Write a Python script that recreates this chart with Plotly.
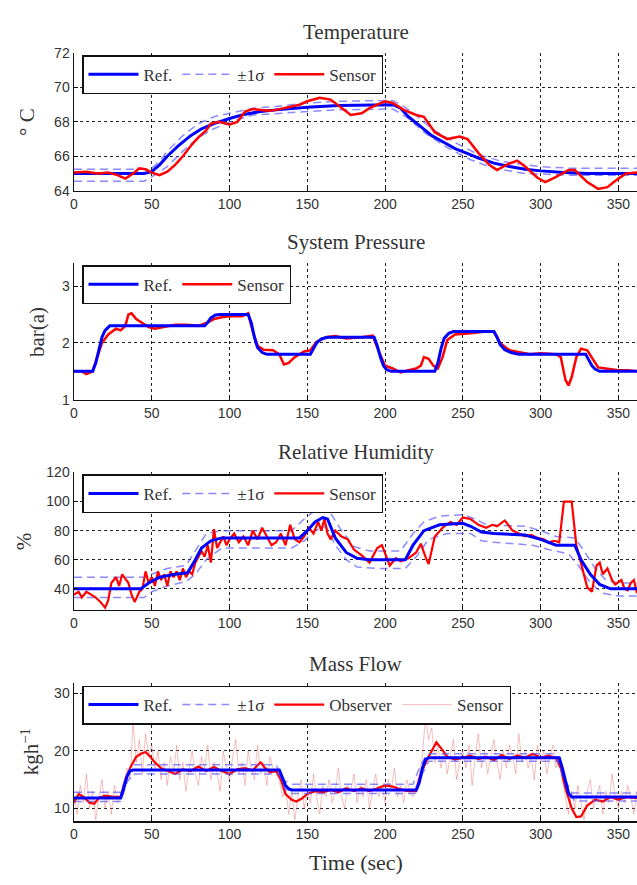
import plotly.graph_objects as go

# ---------------- Temperature ----------------
t_temp_ref = [0, 45, 50, 55, 60, 67, 75, 82, 90, 100, 110, 120, 130, 150, 170, 190, 205, 210, 215, 222, 230, 238, 245, 252, 260, 270, 280, 290, 300, 315, 330, 345, 362]
temp_ref = [65.0, 65.0, 65.1, 65.5, 66.0, 66.6, 67.2, 67.6, 67.9, 68.2, 68.45, 68.6, 68.7, 68.85, 68.95, 69.0, 69.0, 68.8, 68.3, 67.8, 67.2, 66.8, 66.45, 66.2, 65.9, 65.6, 65.4, 65.25, 65.15, 65.05, 65.0, 65.0, 65.0]
t_temp_up = [0, 45, 50, 55, 60, 70, 80, 90, 100, 115, 130, 150, 170, 205, 212, 220, 230, 245, 260, 275, 300, 320, 362]
temp_up = [65.25, 65.25, 65.3, 65.7, 66.3, 67.2, 67.9, 68.3, 68.5, 68.8, 68.9, 69.1, 69.2, 69.25, 68.9, 68.4, 67.6, 66.8, 66.1, 65.7, 65.4, 65.3, 65.3]
t_temp_lo = [0, 45, 50, 60, 70, 80, 90, 100, 115, 130, 150, 170, 205, 215, 225, 240, 255, 270, 290, 320, 362]
temp_lo = [64.55, 64.55, 64.8, 65.4, 66.3, 67.1, 67.6, 68.0, 68.4, 68.5, 68.6, 68.7, 68.75, 68.2, 67.4, 66.5, 65.8, 65.3, 65.0, 64.9, 64.9]
t_temp_s = [0, 8, 15, 22, 28, 33, 38, 42, 46, 50, 55, 60, 65, 70, 75, 80, 85, 88, 93, 100, 105, 110, 115, 120, 125, 130, 135, 140, 145, 150, 158, 165, 172, 178, 185, 190, 195, 200, 205, 212, 220, 225, 232, 240, 248, 253, 260, 267, 272, 278, 285, 290, 298, 303, 310, 318, 322, 330, 337, 343, 350, 355, 362]
temp_s = [65.05, 65.1, 65.0, 65.05, 64.9, 64.7, 65.0, 65.3, 65.25, 65.05, 64.9, 65.1, 65.5, 66.0, 66.6, 67.1, 67.5, 67.9, 68.0, 67.85, 68.0, 68.6, 68.75, 68.7, 68.65, 68.7, 68.8, 68.9, 69.0, 69.2, 69.4, 69.3, 68.8, 68.4, 68.5, 68.8, 69.0, 69.2, 69.1, 68.7, 68.4, 68.3, 67.4, 67.0, 67.15, 67.0, 66.2, 65.5, 65.2, 65.5, 65.75, 65.4, 64.75, 64.5, 64.8, 65.2, 65.2, 64.5, 64.1, 64.2, 64.7, 65.0, 65.05]

# ---------------- System Pressure ----------------
t_pres_ref = [0, 12, 14, 16, 18, 20, 23, 84, 86, 88, 91, 94, 112, 114, 116, 118, 121, 124, 152, 154, 156, 159, 163, 193, 195, 197, 199, 201, 204, 232, 234, 236, 238, 241, 244, 270, 272, 274, 277, 281, 286, 329, 331, 333, 335, 338, 362]
pres_ref = [1.5, 1.5, 1.65, 1.9, 2.1, 2.22, 2.3, 2.3, 2.36, 2.44, 2.49, 2.5, 2.5, 2.35, 2.1, 1.92, 1.83, 1.8, 1.8, 1.9, 2.0, 2.07, 2.1, 2.1, 1.95, 1.75, 1.6, 1.53, 1.5, 1.5, 1.65, 1.9, 2.08, 2.17, 2.2, 2.2, 2.1, 1.97, 1.88, 1.83, 1.8, 1.8, 1.7, 1.6, 1.54, 1.5, 1.5]
t_pres_s = [0, 5, 8, 12, 15, 18, 22, 27, 30, 33, 35, 37, 40, 44, 48, 52, 58, 65, 72, 80, 85, 90, 95, 100, 108, 112, 115, 118, 122, 128, 132, 135, 138, 142, 148, 152, 156, 162, 168, 175, 185, 192, 196, 200, 205, 210, 215, 220, 223, 225, 228, 231, 234, 237, 240, 245, 255, 265, 270, 274, 280, 287, 293, 300, 310, 313, 316, 318, 320, 323, 326, 330, 333, 337, 342, 350, 356, 362]
pres_s = [1.5, 1.5, 1.45, 1.5, 1.75, 2.0, 2.15, 2.25, 2.22, 2.3, 2.5, 2.52, 2.42, 2.35, 2.28, 2.25, 2.28, 2.32, 2.32, 2.3, 2.35, 2.42, 2.45, 2.47, 2.47, 2.52, 2.2, 1.95, 1.88, 1.87, 1.8, 1.62, 1.65, 1.75, 1.85, 1.87, 2.02, 2.1, 2.12, 2.08, 2.1, 2.13, 1.85, 1.6, 1.55, 1.48, 1.52, 1.55, 1.6, 1.75, 1.72, 1.6, 1.55, 1.75, 2.05, 2.15, 2.17, 2.2, 2.2, 2.0, 1.87, 1.83, 1.8, 1.82, 1.8, 1.75, 1.35, 1.25, 1.4, 1.75, 1.9, 1.87, 1.75, 1.57, 1.55, 1.52, 1.52, 1.5]

# ---------------- Relative Humidity ----------------
t_hum_ref = [0, 43, 48, 55, 65, 73, 77, 82, 88, 95, 145, 150, 155, 160, 163, 168, 175, 182, 190, 213, 218, 225, 235, 250, 255, 262, 270, 290, 300, 310, 322, 326, 332, 338, 345, 362]
hum_ref = [40, 40, 44, 48, 50, 51, 58, 68, 73, 75, 75, 80, 86, 89, 88, 75, 65, 61, 60, 60, 70, 80, 84, 85, 83, 79, 78, 77, 74, 70, 70, 60, 50, 43, 40, 40]
t_hum_up = [0, 45, 50, 60, 72, 78, 85, 95, 140, 148, 155, 160, 165, 172, 180, 190, 210, 218, 225, 235, 250, 258, 265, 290, 300, 310, 322, 328, 335, 342, 350, 362]
hum_up = [48, 48, 50, 54, 56, 66, 78, 80, 80, 88, 94, 95, 92, 80, 69, 66, 66, 78, 86, 90, 91, 88, 84, 83, 80, 76, 75, 66, 54, 46, 44, 44]
t_hum_lo = [0, 45, 50, 60, 72, 78, 85, 95, 140, 148, 155, 162, 168, 175, 182, 195, 213, 220, 228, 240, 255, 262, 270, 295, 305, 318, 325, 332, 340, 350, 362]
hum_lo = [34, 34, 38, 42, 45, 50, 60, 68, 68, 73, 80, 83, 70, 60, 55, 54, 54, 62, 74, 78, 78, 73, 72, 70, 67, 64, 55, 44, 37, 35, 35]
t_hum_s = [0, 3, 5, 8, 11, 14, 17, 20, 22, 24, 27, 29, 31, 35, 37, 39, 42, 44, 46, 48, 50, 52, 54, 56, 58, 60, 62, 64, 66, 68, 70, 72, 74, 76, 78, 80, 82, 84, 86, 88, 90, 92, 94, 96, 98, 100, 103, 106, 109, 112, 115, 118, 121, 124, 127, 130, 133, 136, 139, 142, 145, 148, 151, 154, 157, 159, 161, 163, 165, 168, 172, 176, 180, 185, 190, 195, 198, 203, 207, 210, 215, 220, 223, 226, 228, 232, 237, 242, 246, 250, 255, 260, 265, 269, 272, 277, 282, 286, 290, 294, 298, 302, 305, 309, 312, 315, 320, 323, 326, 330, 333, 336, 338, 340, 343, 346, 348, 352, 354, 356, 358, 360, 362]
hum_s = [36, 38, 34, 38, 36, 34, 31, 27, 32, 44, 48, 42, 50, 44, 36, 31, 38, 40, 52, 44, 48, 42, 52, 46, 50, 42, 52, 48, 52, 46, 54, 48, 52, 50, 58, 62, 66, 62, 70, 58, 81, 68, 72, 76, 70, 74, 78, 72, 76, 70, 80, 74, 82, 76, 70, 72, 78, 70, 84, 74, 72, 76, 82, 78, 86, 80, 88, 78, 74, 80, 76, 74, 67, 63, 58, 68, 70, 56, 61, 59, 61, 65, 71, 62, 57, 76, 82, 86, 84, 89, 88, 84, 82, 84, 83, 87, 80, 78, 76, 77, 75, 74, 72, 73, 72, 100, 100, 70, 57, 41, 38, 56, 58, 50, 54, 46, 43, 46, 40, 39, 44, 46, 37]

# ---------------- Mass Flow ----------------
t_mf_ref = [0, 30, 32, 34, 36, 38, 132, 134, 136, 138, 140, 220, 222, 224, 226, 228, 312, 314, 316, 318, 320, 362]
mf_ref = [11.8, 11.8, 13.5, 15.5, 16.5, 16.7, 16.7, 15.5, 14, 13.4, 13.2, 13.2, 14.5, 17, 18.5, 18.8, 18.8, 17, 14.5, 12.6, 12.0, 12.0]
t_mf_up = [0, 30, 34, 38, 130, 134, 140, 218, 222, 227, 310, 314, 320, 362]
mf_up = [12.8, 12.8, 16, 17.6, 17.6, 15, 14.2, 14.2, 17, 19.5, 19.5, 16, 12.7, 12.7]
t_mf_lo = [0, 30, 34, 38, 132, 136, 140, 220, 224, 228, 312, 316, 322, 362]
mf_lo = [11.2, 11.2, 14.5, 16, 16, 13.2, 12.6, 12.6, 16, 18.2, 18.2, 14, 11.3, 11.3]
t_mf_obs = [0, 3, 6, 10, 13, 16, 20, 25, 30, 33, 36, 40, 43, 46, 49, 52, 56, 60, 65, 70, 75, 80, 85, 90, 95, 100, 105, 110, 115, 118, 120, 123, 126, 130, 133, 136, 140, 143, 147, 150, 155, 160, 165, 170, 175, 180, 185, 190, 195, 200, 205, 210, 215, 220, 223, 227, 230, 233, 236, 240, 245, 250, 255, 260, 265, 270, 275, 280, 285, 290, 295, 300, 305, 310, 313, 316, 320, 323, 326, 330, 335, 340, 345, 350, 355, 362]
mf_obs = [11, 12.5, 12, 11, 10.8, 11.8, 12.2, 12, 12, 15, 17, 19, 19.5, 19.8, 19, 18, 17, 16.5, 16, 16.8, 16.5, 17.3, 16.5, 17.2, 16.5, 16, 16.8, 17, 16.6, 17.5, 18, 17, 16.3, 16.5, 15, 12.5, 11.5, 11.2, 11.8, 12.5, 13, 12.8, 13.2, 12.8, 13.5, 13, 13.5, 13, 13.5, 14, 13.8, 13.3, 13, 13, 16, 18.5, 20, 21.5, 20.5, 19, 18.5, 18.8, 19.2, 18.6, 19, 18.4, 19.3, 18.6, 19.2, 18.8, 19.5, 18.8, 19.2, 18.8, 17, 13.5, 10, 8.5, 8.6, 10.5, 11.5, 11.2, 12, 11.5, 12, 11.8]
mf_s = [12, 9, 14, 11, 16, 10, 13, 8, 12, 15, 10, 13, 9, 14, 11, 12,
        14, 17, 15, 25, 18, 22, 16, 23, 19, 21,
        17, 20, 15, 18, 14, 19, 16, 21, 15, 18, 13, 17, 20, 16, 14, 19, 17, 21, 15, 18,
        16, 13, 20, 17, 15, 19, 22, 16, 18, 14, 20, 17, 15, 21, 16, 18, 14, 19, 17, 16,
        15, 12, 14, 9, 13, 8, 12, 15, 10, 13, 11, 16, 12, 9, 14, 12, 15, 11, 13, 17, 12, 10,
        14, 13, 16, 11, 14, 12, 15, 10, 13, 16, 12, 14, 11, 15, 13, 17, 12, 14, 11, 15, 13, 12, 14,
        16, 19, 26, 22, 24, 18, 21, 17, 20, 16, 19, 22, 15, 18, 20, 17, 21, 14, 19, 23, 17, 20, 16,
        19, 22, 18, 15, 20, 17, 21, 19, 16, 23, 18, 20, 17, 19, 15, 21, 18, 20, 16, 19, 21, 17, 19,
        15, 12, 9, 13, 10, 14, 11, 8, 13, 15, 10, 12, 14, 9, 13, 11, 16, 12, 10, 13, 11, 14, 12, 9, 13, 12]
t_mf_s = list(range(0, 2 * len(mf_s), 2))  # sensor sampled every 2 s

# ---------------- Text / ticks ----------------
titles = ["Temperature", "System Pressure", "Relative Humidity", "Mass Flow"]
ylabels = ["° C", "bar(a)", "%", "kgh<sup>−1</sup>"]
x_ticks = [0, 50, 100, 150, 200, 250, 300, 350]

W, H = 637, 885
L = 74
panels_px = [(46, 186), (260, 399), (473, 613), (687, 828)]
yranges = [[64, 72], [1, 3.4], [25.5, 120], [7.8, 31.9]]
ytickvals = [[64, 66, 68, 70, 72], [1, 2, 3], [40, 60, 80, 100, 120], [10, 20, 30]]
title_px = [24, 238, 452, 668]
ylabel_px = [(27, 116), (37, 330), (24, 543), (30, 757)]
legend_top_px = [48, 262, 475, 690]

def py(p):
    return 1 - p / H

def px(p):
    return (p - L) / (W - L)

BLUE = "#0000ff"
BAND = "rgba(90,90,255,0.7)"
RED = "#ff0000"
PINK = "rgba(235,110,110,0.45)"
SERIF = "Liberation Serif, DejaVu Serif, serif"
SANS = "Liberation Sans, Arial, sans-serif"

fig = go.Figure()

def add(x, y, ax, name, color, width, show, dash=None, rank=1000):
    fig.add_trace(go.Scatter(
        x=x, y=y, mode="lines", name=name,
        line=dict(color=color, width=width, dash=dash),
        xaxis="x" if ax == 1 else f"x{ax}", yaxis="y" if ax == 1 else f"y{ax}",
        legend="legend" if ax == 1 else f"legend{ax}",
        showlegend=show, legendrank=rank,
        hoverinfo="skip"))

DASH = "8px,5px"
# Temperature
add(t_temp_up, temp_up, 1, "±1σ", BAND, 1.5, True, DASH, 2)
add(t_temp_lo, temp_lo, 1, "±1σ", BAND, 1.5, False, DASH)
add(t_temp_ref, temp_ref, 1, "Ref.", BLUE, 3, True, None, 1)
add(t_temp_s, temp_s, 1, "Sensor", RED, 2.5, True, None, 3)
# Pressure
add(t_pres_s, pres_s, 2, "Sensor", RED, 2.5, True, None, 3)
add(t_pres_ref, pres_ref, 2, "Ref.", BLUE, 3, True, None, 1)
# Humidity
add(t_hum_up, hum_up, 3, "±1σ", BAND, 1.5, True, DASH, 2)
add(t_hum_lo, hum_lo, 3, "±1σ", BAND, 1.5, False, DASH)
add(t_hum_s, hum_s, 3, "Sensor", RED, 2.2, True, None, 3)
add(t_hum_ref, hum_ref, 3, "Ref.", BLUE, 3, True, None, 1)
# Mass flow
add(t_mf_s, mf_s, 4, "Sensor", PINK, 1, True, None, 4)
add(t_mf_obs, mf_obs, 4, "Observer", RED, 2.2, True, None, 3)
add(t_mf_up, mf_up, 4, "±1σ", BAND, 1.5, True, DASH, 2)
add(t_mf_lo, mf_lo, 4, "±1σ", BAND, 1.5, False, DASH)
add(t_mf_ref, mf_ref, 4, "Ref.", BLUE, 3, True, None, 1)

layout = dict(
    width=W, height=H,
    margin=dict(l=L, r=0, t=0, b=0),
    paper_bgcolor="white", plot_bgcolor="white",
    showlegend=True,
    annotations=[],
)
for i in range(4):
    k = "" if i == 0 else str(i + 1)
    top, bot = panels_px[i]
    common = dict(
        showgrid=True, gridcolor="#222", griddash="dot", gridwidth=1,
        showline=True, linecolor="#111", linewidth=1.5, mirror=False,
        ticks="inside", ticklen=4, tickcolor="#111",
        tickfont=dict(family=SANS, size=14, color="#333"), zeroline=False,
    )
    layout["xaxis" + k] = dict(domain=[0, 1], range=[0, 362], anchor="y" + k,
                               tickvals=x_ticks, **common)
    layout["yaxis" + k] = dict(domain=[py(bot), py(top)], range=yranges[i], anchor="x" + k,
                               tickvals=ytickvals[i], **common)
    layout["legend" + k] = dict(
        x=px(82), y=py(legend_top_px[i]), xanchor="left", yanchor="top",
        orientation="h", bgcolor="white", bordercolor="#111", borderwidth=1.5,
        font=dict(family=SERIF, size=17, color="#333"), itemwidth=50,
        tracegroupgap=0,
    )
    layout["annotations"].append(dict(
        text=titles[i], x=0.5, y=py(title_px[i]), xref="paper", yref="paper",
        xanchor="center", yanchor="middle", showarrow=False,
        font=dict(family=SERIF, size=21, color="#333")))
    lx, ly = ylabel_px[i]
    layout["annotations"].append(dict(
        text=ylabels[i], x=px(lx), y=py(ly), xref="paper", yref="paper",
        xanchor="center", yanchor="middle", showarrow=False, textangle=-90,
        font=dict(family=SERIF, size=21, color="#333")))

layout["annotations"].append(dict(
    text="Time (sec)", x=0.5, y=py(870), xref="paper", yref="paper",
    xanchor="center", yanchor="middle", showarrow=False,
    font=dict(family=SERIF, size=22, color="#333")))

fig.update_layout(**layout)
fig.write_html("out.html",
               config={"displayModeBar": False, "staticPlot": True},
               post_script="document.body.style.margin='0';document.body.style.overflow='hidden';")
